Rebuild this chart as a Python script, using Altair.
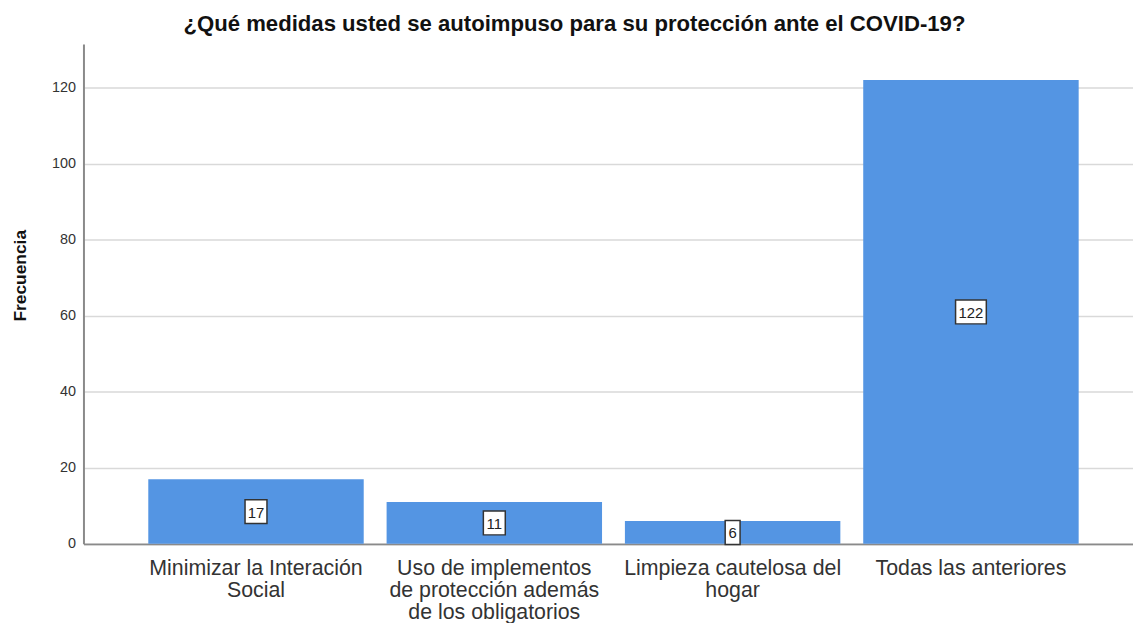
import altair as alt
import pandas as pd

categories = [
    "Minimizar la Interación\nSocial",
    "Uso de implementos\nde protección además\nde los obligatorios",
    "Limpieza cautelosa del\nhogar",
    "Todas las anteriores",
]
frequencies = [17, 11, 6, 122]
y_ticks = [0, 20, 40, 60, 80, 100, 120]
title_text = "¿Qué medidas usted se autoimpuso para su protección ante el COVID-19?"

df = pd.DataFrame({"cat": categories, "freq": frequencies})

FONT = "Liberation Sans"

x_enc = alt.X(
    "cat:N",
    sort=categories,
    title=None,
    scale=alt.Scale(paddingInner=0.096, paddingOuter=0.25, align=0.544),
    axis=alt.Axis(
        labelAngle=0,
        labelExpr="split(datum.label, '\\n')",
        labelFontSize=21.5,
        labelLineHeight=22,
        labelColor="#333333",
        labelFont=FONT,
        ticks=False,
        domainColor="#8a8a8a",
        domainWidth=2,
        labelPadding=14,
        labelLimit=0,
    ),
)

y_scale = alt.Scale(domain=[0, 131.5], nice=False, zero=True)
y_axis = alt.Axis(
    values=y_ticks,
    grid=True,
    gridColor="#d9d9d9",
    gridWidth=1.5,
    ticks=False,
    domainColor="#8a8a8a",
    domainWidth=2,
    labelFontSize=14.5,
    labelColor="#333333",
    labelFont=FONT,
    labelPadding=8,
    titleFontSize=17.5,
    titleFontWeight="bold",
    titleColor="#111111",
    titlePadding=22,
    titleY=233,
    titleFont=FONT,
)

bars = alt.Chart(df).mark_bar(color="#5495e3").encode(
    x=x_enc,
    y=alt.Y("freq:Q", title="Frecuencia", scale=y_scale, axis=y_axis),
)

paths = [
    "M-0.625,-1H0.625V1H-0.625Z",
    "M-0.92,-1H0.92V1H-0.92Z",
    "M-1.29,-1H1.29V1H-1.29Z",
]

base = alt.Chart(df).transform_calculate(
    mid="datum.freq / 2",
    nd="toString(length(toString(datum.freq)))",
)

boxes = base.mark_point(
    filled=True, fill="white", stroke="#333333", strokeWidth=1.5, size=576, opacity=1
).encode(
    x=x_enc,
    y=alt.Y("mid:Q", title="Frecuencia", scale=y_scale, axis=y_axis),
    shape=alt.Shape(
        "nd:N", scale=alt.Scale(domain=["1", "2", "3"], range=paths), legend=None
    ),
)

labels = base.mark_text(
    fontSize=15, color="#222222", font=FONT, baseline="middle", dy=1
).encode(
    x=x_enc,
    y=alt.Y("mid:Q", title="Frecuencia", scale=y_scale, axis=y_axis),
    text=alt.Text("freq:Q"),
)

chart = (
    alt.layer(bars, boxes, labels)
    .properties(
        width=1057,
        height=503.5,
        title=alt.TitleParams(
            text=title_text,
            fontSize=22.3,
            fontWeight="bold",
            font=FONT,
            color="#111111",
            anchor="middle",
            dx=-34,
            offset=9,
        ),
        autosize=alt.AutoSizeParams(type="none"),
        padding={"left": 76, "top": 34, "right": 0, "bottom": 77},
        background="white",
    )
    .configure_view(stroke=None)
)

chart.save("out.html", embed_options={"renderer": "svg", "actions": False})
